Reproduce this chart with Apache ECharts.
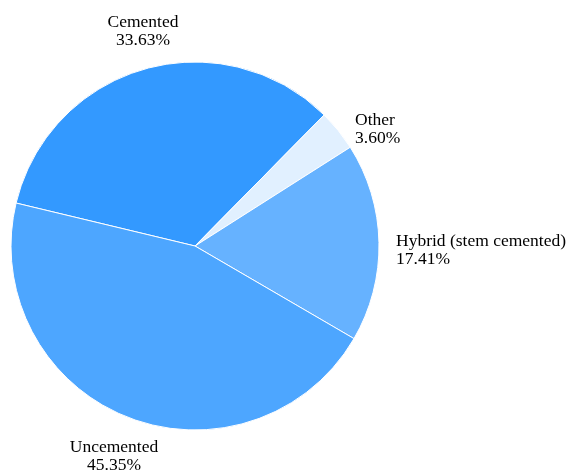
<!DOCTYPE html>
<html>
<head>
<meta charset="utf-8">
<script src="https://cdn.jsdelivr.net/npm/echarts@6/dist/echarts.min.js"></script>
<style>
  html, body { margin: 0; padding: 0; background: #fff; }
  #chart { width: 567px; height: 472px; }
</style>
</head>
<body>
<div id="chart"></div>
<script>
// Hip replacement fixation types, share of procedures (%)
const categories = ['Cemented', 'Other', 'Hybrid (stem cemented)', 'Uncemented'];
const shares = [33.63, 3.60, 17.41, 45.35];
const colors = ['#3399ff', '#e1f0ff', '#66b2ff', '#4da6ff'];

// label anchor per slice: [x, y, align]
const labelSpots = [
  [143, 31, 'center'],
  [355, 129, 'left'],
  [396, 250, 'left'],
  [114, 456, 'center']
];

const chart = echarts.init(document.getElementById('chart'), null, { renderer: 'canvas' });

chart.setOption({
  animation: false,
  backgroundColor: '#ffffff',
  series: [{
    type: 'pie',
    center: [195, 246],
    radius: [0, 184],
    startAngle: 166.5,
    clockwise: true,
    data: categories.map((name, i) => ({
      name,
      value: shares[i],
      itemStyle: { color: colors[i] }
    })),
    itemStyle: { borderColor: '#ffffff', borderWidth: 1 },
    emphasis: { disabled: true },
    labelLine: { show: false },
    label: {
      show: true,
      position: 'outside',
      formatter: p => p.name + '\n' + p.value.toFixed(2) + '%',
      fontFamily: "'Liberation Serif', 'Times New Roman', serif",
      fontSize: 17.5,
      lineHeight: 18,
      color: '#000000',
      overflow: 'none',
      width: 300
    },
    labelLayout: params => {
      const s = labelSpots[params.dataIndex];
      return { x: s[0], y: s[1], align: s[2], verticalAlign: 'middle' };
    }
  }]
});
</script>
</body>
</html>
